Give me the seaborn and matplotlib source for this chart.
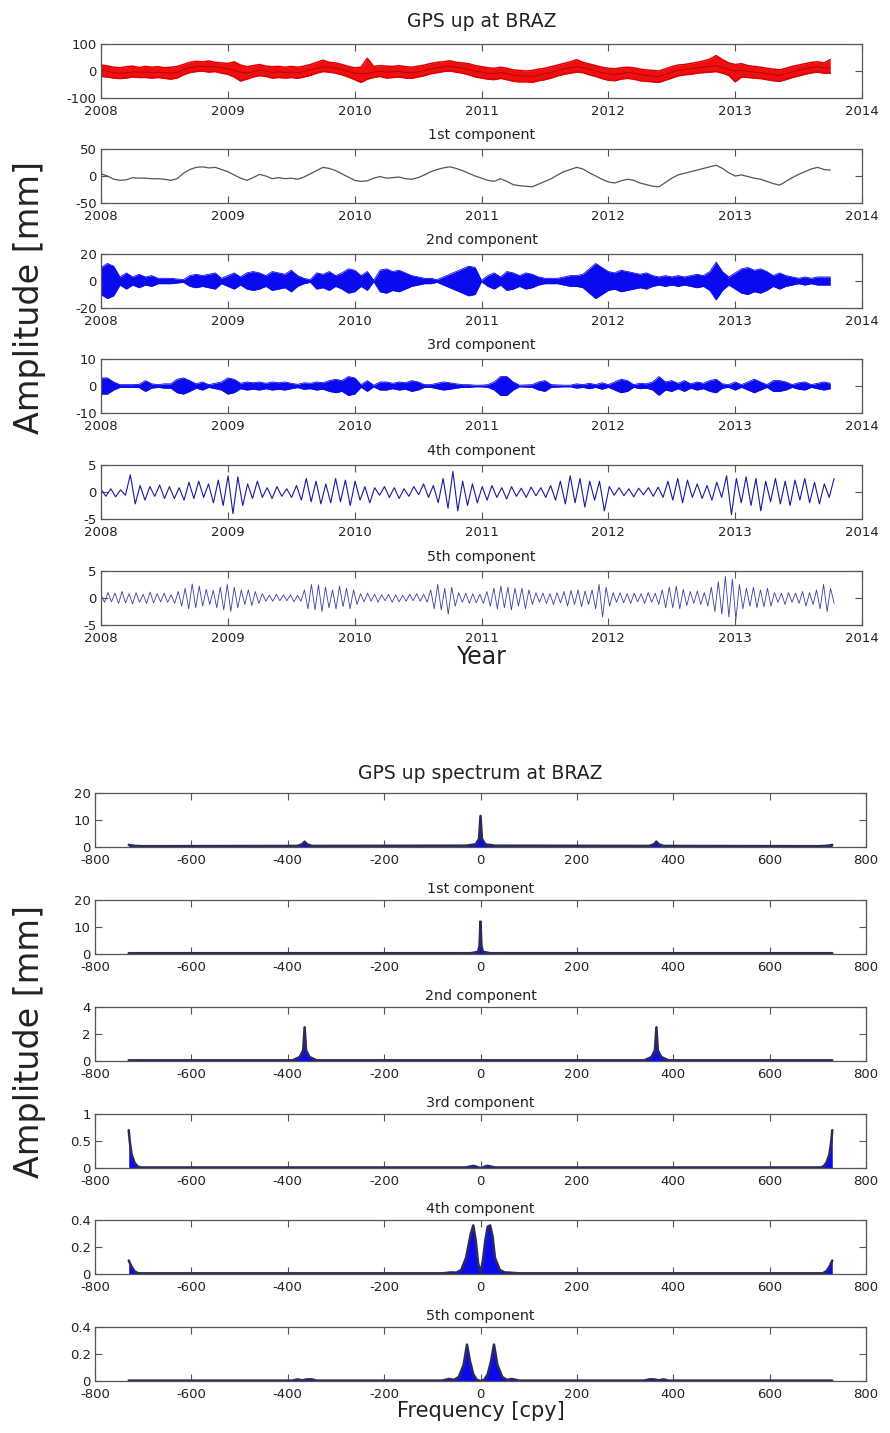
import numpy as np
import pandas as pd
import matplotlib
matplotlib.use("Agg")
import matplotlib.pyplot as plt
import seaborn as sns

# ------------------------------------------------------------------
# Data
# ------------------------------------------------------------------
year_start = 2008.0
year_step = 0.05          # sampling of the envelope / trend readings
year_end = 2013.78        # last sample of the oscillating components

# GPS up (red) : upper and lower edge of the noisy band, mm
gps_upper = [22, 19, 14, 12, 16, 18, 13, 17, 14, 16,
             12, 14, 17, 24, 32, 36, 34, 37, 32, 30,
             28, 34, 22, 16, 20, 24, 18, 16, 17, 14,
             17, 14, 18, 24, 32, 40, 32, 30, 24, 17,
             12, 14, 47, 17, 20, 18, 17, 20, 16, 14,
             18, 22, 28, 32, 34, 38, 32, 30, 27, 20,
             16, 12, 10, 14, 10, 4, 2, 0, 2, 7,
             10, 16, 22, 28, 34, 42, 32, 26, 20, 14,
             10, 8, 12, 14, 12, 7, 4, 2, 0, 8,
             16, 22, 24, 28, 32, 37, 44, 57, 42, 30,
             24, 27, 20, 17, 14, 10, 7, 4, 10, 17,
             22, 27, 32, 34, 30, 42]
gps_lower = [-20, -22, -26, -28, -26, -22, -24, -24, -26, -24,
             -27, -30, -26, -14, -6, -2, 0, -4, -2, -8,
             -12, -22, -37, -30, -22, -17, -20, -26, -24, -26,
             -24, -27, -22, -16, -8, -2, -4, -8, -14, -22,
             -32, -42, -30, -24, -20, -26, -24, -22, -26, -27,
             -22, -17, -10, -6, -2, 0, -4, -8, -14, -22,
             -26, -30, -32, -27, -32, -38, -40, -40, -42, -36,
             -32, -26, -18, -12, -8, -4, -6, -14, -20, -28,
             -34, -36, -30, -27, -30, -36, -38, -40, -42, -34,
             -26, -18, -14, -12, -8, -6, -4, -2, -8, -16,
             -40, -22, -24, -26, -28, -32, -36, -38, -32, -24,
             -18, -12, -7, -4, -8, -8]

# 1st component (trend), mm
comp1 = [4, 0, -6, -8, -7, -3, -4, -4, -5, -5,
         -6, -8, -5, 5, 12, 16, 17, 15, 16, 12,
         8, 2, -4, -8, -3, 3, 0, -5, -3, -5,
         -4, -6, -2, 4, 10, 16, 14, 10, 4, -2,
         -8, -10, -9, -4, -1, -4, -3, -2, -5, -6,
         -3, 2, 8, 12, 15, 17, 14, 10, 5, 0,
         -4, -8, -10, -5, -10, -16, -18, -19, -20, -15,
         -10, -5, 2, 8, 12, 16, 13, 6, 0, -6,
         -11, -13, -9, -6, -8, -13, -16, -19, -20, -12,
         -4, 2, 5, 8, 11, 14, 17, 20, 14, 6,
         0, 2, -1, -4, -6, -10, -14, -17, -10, -3,
         3, 8, 13, 16, 12, 11]

# 2nd component (daily oscillation): envelope amplitude, mm
comp2_env = [10, 13, 11, 3, 6, 3, 5, 3, 4, 2,
             2, 2, 1.5, 1, 4, 5, 4, 5, 6, 2,
             4, 6, 3, 6, 7, 6, 4, 7, 6, 5,
             8, 4, 2, 1, 6, 5, 7, 4, 6, 9,
             8, 4, 7, 0.5, 8, 9, 7, 8, 6, 4,
             3, 2, 2, 1, 3, 5, 7, 9, 11, 10,
             0.5, 4, 6, 3, 7, 6, 4, 6, 5, 3,
             2, 2, 2, 3, 4, 4, 5, 9, 13, 10,
             7, 6, 8, 7, 6, 5, 6, 4, 3, 4,
             3, 4, 3, 4, 5, 4, 7, 14, 7, 3,
             6, 9, 10, 8, 9, 7, 4, 6, 4, 3,
             2, 3, 2, 3, 3, 3]

# 3rd component (semi-daily oscillation): envelope amplitude, mm
comp3_env = [3, 3, 1.5, 0.5, 0.5, 0.5, 0.6, 2, 0.8, 0.5,
             0.8, 0.8, 2.5, 3, 2, 0.8, 1.5, 0.5, 1, 1.5,
             3, 2.5, 1, 1.5, 1.2, 1.5, 1, 1.5, 1.2, 1.5,
             1, 0.6, 1.2, 1, 1.5, 1.2, 2, 2.5, 2, 3.5,
             3, 0.5, 2, 0.3, 1.5, 1.5, 1, 1.5, 1.2, 2,
             1.5, 0.5, 0.5, 1, 1.5, 1.2, 0.8, 0.5, 0.5, 0.3,
             0.3, 0.5, 1.5, 3.5, 3.5, 1.5, 0.3, 0.4, 0.5, 1.5,
             2, 0.5, 0.4, 0.3, 0.3, 0.8, 0.5, 1, 0.5, 1.2,
             0.5, 1.5, 2.5, 2, 0.5, 1, 0.8, 1.5, 3.5, 1.5,
             2, 1, 2, 0.8, 1.5, 1, 2, 2.5, 0.8, 0.5,
             1.5, 0.5, 1.5, 2.5, 1.5, 0.5, 2, 2, 1.5, 0.5,
             1.2, 1.5, 0.5, 1, 1.5, 1]

# 4th component: successive peaks / troughs, mm
comp4 = [0.5, -0.8, 0.6, -0.9, 0.4, -0.6, 3.2, -2.2, 1.2, -1.5, 1.0, -0.8, 1.3,
         -1.2, 1.0, -1.2, 0.8, -1.5, 1.8, -1.2, 2.0, -1.0, 1.5, -2.0, 2.2, -2.5,
         3.0, -4.0, 2.8, -2.5, 1.5, -1.2, 2.0, -1.0, 0.8, -1.2, 1.0, -0.8, 0.6,
         -1.0, 1.2, -1.5, 2.5, -1.8, 2.0, -2.2, 1.5, -2.0, 2.5, -1.8, 2.2, -2.5,
         2.0, -1.5, 1.0, -2.0, 0.8, -0.6, 1.0, -1.0, 0.8, -1.2, 0.6, -0.8, 1.0,
         -0.5, 1.5, -1.0, 1.2, -2.0, 2.5, -3.0, 3.8, -3.5, 2.0, -2.5, 1.5, -2.0,
         1.0, -1.5, 1.2, -1.0, 0.8, -1.3, 1.0, -0.8, 0.7, -1.0, 0.9, -0.7, 0.8,
         -1.0, 1.2, -1.5, 2.0, -2.2, 3.0, -2.0, 2.5, -2.8, 2.0, -1.5, 2.0, -3.5,
         1.0, -0.6, 0.8, -0.7, 0.6, -0.9, 0.7, -0.5, 0.8, -0.8, 0.9, -1.0, 2.0,
         -1.5, 2.5, -2.0, 2.2, -1.0, 1.5, -1.2, 1.2, -1.5, 1.8, -1.0, 3.0, -4.2,
         2.5, -2.0, 2.8, -2.5, 2.5, -3.5, 2.0, -1.8, 2.5, -2.2, 2.0, -2.5, 2.2,
         -1.5, 2.5, -2.0, 1.8, -2.2, 1.5, -1.0, 2.5]

# 5th component: successive peaks / troughs, mm
comp5 = [0.6, -0.8, 1.0, -0.7, 0.9, -1.0, 1.2, -0.9, 0.8, -1.1, 1.0, -0.8,
         0.7, -1.0, 1.1, -0.9, 0.8, -0.7, 0.9, -0.8, 0.6, -1.0, 1.2, -1.5,
         1.8, -2.0, 2.6, -1.8, 2.2, -1.5, 1.6, -1.2, 1.4, -1.8, 2.0, -2.2,
         2.5, -2.5, 2.0, -1.8, 1.5, -1.2, 1.5, -1.4, 1.2, -1.0, 0.8, -0.6,
         0.5, -0.6, 0.7, -0.5, 0.6, -0.5, 0.6, -0.7, 0.5, -0.6, 1.5, -2.0,
         2.5, -2.2, 2.4, -2.5, 2.0, -1.8, 1.5, -2.0, 2.2, -1.6, 1.8, -2.0,
         1.5, -1.2, 0.8, -0.7, 0.9, -0.6, 0.7, -0.8, 0.6, -0.5, 0.7, -0.8,
         0.6, -0.7, 0.5, -0.6, 0.7, -0.5, 0.8, -0.6, 0.7, -0.8, 1.5, -2.0,
         2.5, -2.2, 1.8, -3.0, 2.0, -1.5, 1.0, -0.8, 0.9, -1.0, 0.8, -0.9,
         0.7, -1.0, 1.2, -1.5, 1.8, -2.0, 2.2, -1.8, 2.0, -2.2, 1.8, -1.5,
         1.8, -2.0, 1.5, -1.2, 1.0, -0.8, 0.9, -1.0, 0.8, -1.2, 1.0, -0.9,
         1.2, -1.5, 1.4, -1.2, 1.5, -1.6, 1.3, -1.2, 1.5, -2.0, 2.5, -3.5,
         2.0, -1.5, 1.0, -0.8, 1.0, -0.9, 0.8, -1.0, 0.9, -0.7, 0.8, -1.0,
         1.0, -0.8, 0.9, -1.2, 1.5, -1.8, 2.0, -1.8, 2.2, -2.0, 1.6, -1.4,
         1.2, -1.0, 1.3, -1.2, 1.0, -1.5, 2.0, -2.5, 3.0, -3.0, 4.0, -3.5,
         3.5, -4.0, 2.5, -2.0, 1.8, -1.5, 2.0, -1.8, 1.5, -1.6, 1.8, -1.5,
         1.0, -0.8, 0.9, -1.2, 1.0, -0.8, 0.9, -1.0, 1.2, -1.5, 1.0, -1.2,
         1.5, -2.0, 2.5, -2.5, 1.8, -1.0]

# Spectra: frequency (cpy) and amplitude (mm)
spec_raw_f = [-730, -725, -715, -700, -380, -370, -365, -360, -350, -30, -10, -3, 0,
              3, 10, 30, 350, 360, 365, 370, 380, 700, 715, 725, 730]
spec_raw_a = [0.8, 0.6, 0.4, 0.3, 0.4, 1.0, 2.0, 1.0, 0.4, 0.5, 1.0, 3.0, 11.5,
              3.0, 1.0, 0.5, 0.4, 1.0, 2.0, 1.0, 0.4, 0.3, 0.4, 0.6, 0.8]
spec_c1_f = [-730, -20, -5, -2, 0, 2, 5, 20, 730]
spec_c1_a = [0.3, 0.3, 0.8, 3.0, 12.0, 3.0, 0.8, 0.3, 0.3]
spec_c2_f = [-730, -390, -375, -368, -365, -362, -355, -340,
             340, 355, 362, 365, 368, 375, 390, 730]
spec_c2_a = [0.05, 0.05, 0.3, 0.8, 2.5, 0.8, 0.3, 0.05,
             0.05, 0.3, 0.8, 2.5, 0.8, 0.3, 0.05, 0.05]
spec_c3_f = [-730, -728, -724, -718, -712, -705, -30, -20, -15, -10, -5, 0,
             5, 10, 15, 20, 30, 705, 712, 718, 724, 728, 730]
spec_c3_a = [0.7, 0.5, 0.25, 0.1, 0.03, 0.01, 0.01, 0.03, 0.04, 0.03, 0.01, 0.0,
             0.01, 0.03, 0.04, 0.03, 0.01, 0.01, 0.03, 0.1, 0.25, 0.5, 0.7]
spec_c4_f = [-730, -725, -718, -710, -80, -60, -50, -40, -30, -20, -15, -10, -5, 0,
             5, 10, 15, 20, 25, 30, 40, 50, 60, 80, 710, 718, 725, 730]
spec_c4_a = [0.1, 0.06, 0.02, 0.005, 0.005, 0.012, 0.01, 0.03, 0.12, 0.3, 0.36, 0.25, 0.08, 0.01,
             0.1, 0.25, 0.35, 0.36, 0.28, 0.12, 0.03, 0.012, 0.01, 0.005, 0.005, 0.02, 0.06, 0.1]
spec_c5_f = [-730, -390, -380, -370, -360, -350, -340, -80, -65, -55, -45, -35, -28, -22,
             -15, -8, 0, 8, 15, 22, 28, 35, 45, 55, 65, 80, 340, 350, 360, 370, 380, 390, 730]
spec_c5_a = [0.003, 0.003, 0.012, 0.005, 0.012, 0.012, 0.003, 0.003, 0.015, 0.008, 0.03, 0.12, 0.27,
             0.15, 0.05, 0.01, 0.0, 0.01, 0.05, 0.15, 0.27, 0.12, 0.03, 0.008, 0.015, 0.003,
             0.003, 0.012, 0.012, 0.005, 0.012, 0.003, 0.003]

time_titles = ["GPS up at BRAZ", "1st component", "2nd component",
               "3rd component", "4th component", "5th component"]
spec_titles = ["GPS up spectrum at BRAZ", "1st component", "2nd component",
               "3rd component", "4th component", "5th component"]
time_yticks = [[-100, 0, 100], [-50, 0, 50], [-20, 0, 20], [-10, 0, 10], [-5, 0, 5], [-5, 0, 5]]
spec_yticks = [[0, 10, 20], [0, 10, 20], [0, 2, 4], [0, 0.5, 1], [0, 0.2, 0.4], [0, 0.2, 0.4]]
spec_yticklabels = [["0", "10", "20"], ["0", "10", "20"], ["0", "2", "4"],
                    ["0", "0.5", "1"], ["0", "0.2", "0.4"], ["0", "0.2", "0.4"]]
year_ticks = [2008, 2009, 2010, 2011, 2012, 2013, 2014]
freq_ticks = [-800, -600, -400, -200, 0, 200, 400, 600, 800]

# ------------------------------------------------------------------
# Style
# ------------------------------------------------------------------
sns.set_theme(style="ticks")
plt.rcParams.update({
    "font.family": ["DejaVu Sans"],
    "xtick.direction": "in",
    "ytick.direction": "in",
    "xtick.top": True,
    "ytick.right": True,
    "xtick.major.size": 5,
    "ytick.major.size": 5,
    "xtick.major.width": 0.8,
    "ytick.major.width": 0.8,
    "axes.edgecolor": "#555555",
    "axes.linewidth": 0.9,
    "xtick.color": "#555555",
    "ytick.color": "#555555",
    "xtick.labelcolor": "#222222",
    "ytick.labelcolor": "#222222",
    "xtick.labelsize": 9.5,
    "ytick.labelsize": 9.5,
    "xtick.major.pad": 5,
    "ytick.major.pad": 3,
})

W, H = 890, 1433
fig = plt.figure(figsize=(W / 100, H / 100), dpi=100)


def add_axes(left_px, right_px, top_px, h_px):
    return fig.add_axes([left_px / W, 1 - (top_px + h_px) / H,
                         (right_px - left_px) / W, h_px / H])


time_tops = [44, 149, 254, 359, 465, 571]
spec_tops = [793, 900, 1007, 1114, 1220, 1327]
PH = 54

years_env = year_start + year_step * np.arange(len(comp1))
years4 = np.linspace(year_start, year_end, len(comp4))
years5 = np.linspace(year_start, year_end, len(comp5))

blue = "#0a0aee"

# ---------------- time-domain panels ----------------
time_axes = [add_axes(101, 862, t, PH) for t in time_tops]

ax = time_axes[0]
ax.fill_between(years_env, gps_lower, gps_upper, color="#ee1010", lw=0)
sns.lineplot(x=years_env, y=gps_upper, ax=ax, color="#e00000", linewidth=1.1)
sns.lineplot(x=years_env, y=gps_lower, ax=ax, color="#e00000", linewidth=1.1)
sns.lineplot(x=years_env, y=comp1, ax=ax, color="#b00000", linewidth=0.6)

ax = time_axes[1]
sns.lineplot(x=years_env, y=comp1, ax=ax, color="#555555", linewidth=0.9)

ax = time_axes[2]
env2 = np.array(comp2_env, dtype=float)
ax.fill_between(years_env, -env2, env2, color=blue, lw=0)
sns.lineplot(x=years_env, y=env2, ax=ax, color=blue, linewidth=0.6)
sns.lineplot(x=years_env, y=-env2, ax=ax, color=blue, linewidth=0.6)

ax = time_axes[3]
env3 = np.array(comp3_env, dtype=float)
ax.fill_between(years_env, -env3, env3, color=blue, lw=0)
sns.lineplot(x=years_env, y=env3, ax=ax, color=blue, linewidth=0.6)
sns.lineplot(x=years_env, y=-env3, ax=ax, color=blue, linewidth=0.6)

ax = time_axes[4]
sns.lineplot(x=years4, y=comp4, ax=ax, color="#1a1a9c", linewidth=0.8)

ax = time_axes[5]
sns.lineplot(x=years5, y=comp5, ax=ax, color="#3c3ca6", linewidth=0.6)

for i, ax in enumerate(time_axes):
    ax.set_xlim(2008, 2014)
    yt = time_yticks[i]
    ax.set_ylim(yt[0], yt[-1])
    ax.set_yticks(yt)
    ax.set_yticklabels([str(v) for v in yt])
    ax.set_xticks(year_ticks)
    ax.set_xticklabels([str(v) for v in year_ticks])
    if i == 0:
        ax.set_title(time_titles[i], fontsize=13.5, pad=12, color="#222222")
    else:
        ax.set_title(time_titles[i], fontsize=10.3, pad=7.5, color="#222222")
    ax.set_xlabel("")
    ax.set_ylabel("")
time_axes[-1].set_xlabel("Year", fontsize=17, labelpad=0, color="#222222")

# ---------------- spectrum panels ----------------
spec_axes = [add_axes(95, 866, t, PH) for t in spec_tops]
spectra = [(spec_raw_f, spec_raw_a), (spec_c1_f, spec_c1_a), (spec_c2_f, spec_c2_a),
           (spec_c3_f, spec_c3_a), (spec_c4_f, spec_c4_a), (spec_c5_f, spec_c5_a)]
for i, (ax, (f, a)) in enumerate(zip(spec_axes, spectra)):
    ax.fill_between(f, 0, a, color=blue, lw=0)
    sns.lineplot(x=f, y=a, ax=ax, color="#2a2a5e", linewidth=1.8)
    ax.set_xlim(-800, 800)
    yt = spec_yticks[i]
    ax.set_ylim(yt[0], yt[-1])
    ax.set_yticks(yt)
    ax.set_yticklabels(spec_yticklabels[i])
    ax.set_xticks(freq_ticks)
    ax.set_xticklabels([str(v) for v in freq_ticks])
    if i == 0:
        ax.set_title(spec_titles[i], fontsize=13.5, pad=10, color="#222222")
    else:
        ax.set_title(spec_titles[i], fontsize=10.3, pad=5, color="#222222")
    ax.set_xlabel("")
    ax.set_ylabel("")
spec_axes[-1].set_xlabel("Frequency [cpy]", fontsize=15, labelpad=0, color="#222222")

fig.text(30 / W, 1 - 297 / H, "Amplitude [mm]", rotation=90, fontsize=24,
         ha="center", va="center", color="#222222")
fig.text(30 / W, 1 - 1042 / H, "Amplitude [mm]", rotation=90, fontsize=24,
         ha="center", va="center", color="#222222")

fig.savefig("out.png", dpi=100, facecolor="white")
